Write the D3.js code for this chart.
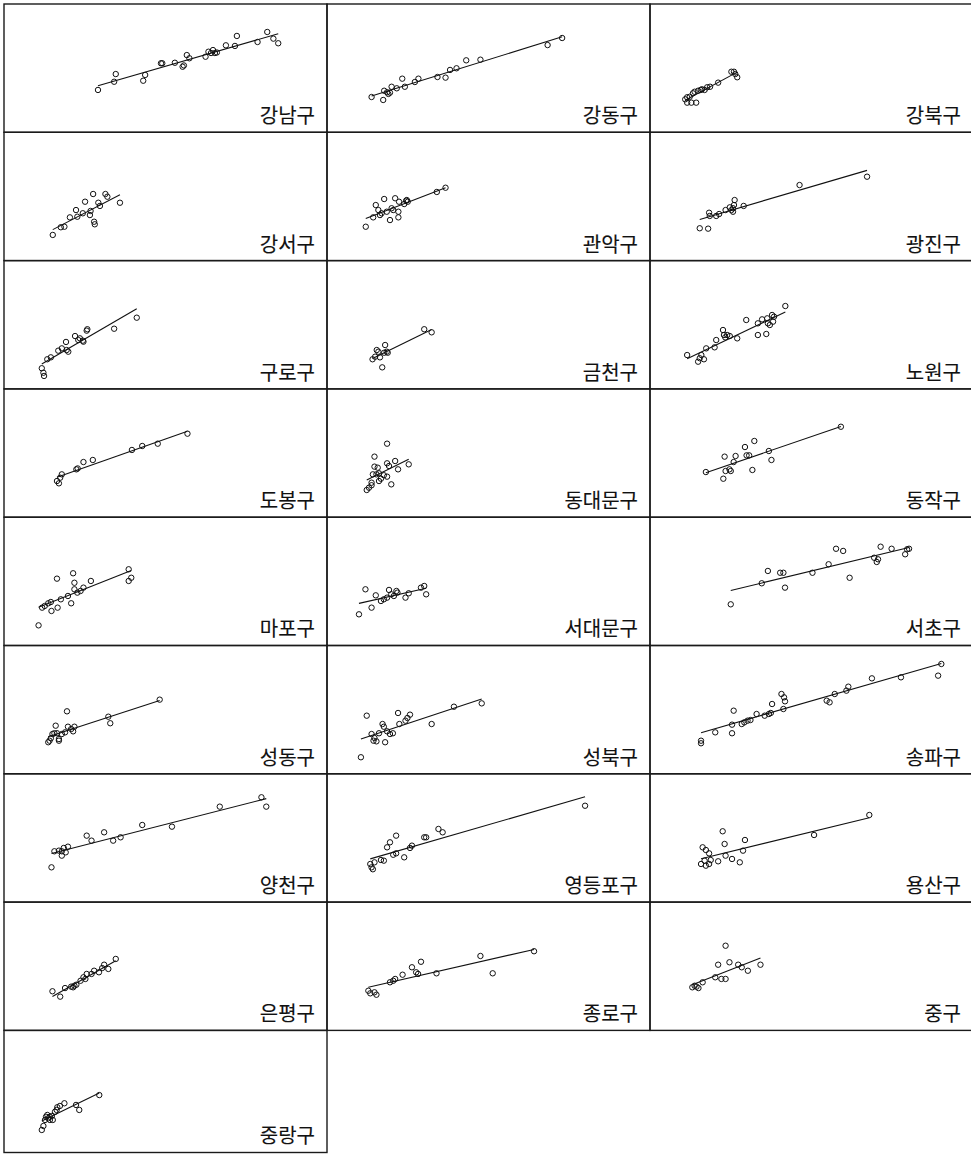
<!DOCTYPE html>
<html>
<head>
<meta http-equiv="Content-Type" content="text/html; charset=utf-8" />
<title>구별 산점도</title>
<script src="https://cdn.jsdelivr.net/npm/d3@7"></script>
<style>
body {
	margin: 0;
	background-color: #fff;
}
svg {
	display: block;
}
.frame {
	fill: none;
	stroke: #1a1a1a;
	stroke-width: 1.4;
}
.pt {
	fill: none;
	stroke: #111;
	stroke-width: 1;
}
.fit {
	stroke: #111;
	stroke-width: 1.1;
}
.lab {
	font: 20px "Noto Sans CJK KR", sans-serif;
	fill: #111;
	stroke: #111;
	stroke-width: 0.12;
	text-anchor: end;
}
</style>
</head>
<body>
<svg></svg>
<script>

/***********
 Data
************/
var districts = ["강남구","강동구","강북구","강서구","관악구","광진구","구로구","금천구","노원구",
	"도봉구","동대문구","동작구","마포구","서대문구","서초구","성동구","성북구","송파구",
	"양천구","영등포구","용산구","은평구","종로구","중구","중랑구"];

// [x, y] pairs per district, same order as districts
var samples = [
	[[29.1,33.0],[34.6,45.4],[34.1,39.4],[43.1,40.2],[43.7,44.7],[48.6,53.8],[49.0,53.8],[52.9,54.2],[55.3,51.1],[55.7,52.1],[56.6,60.2],[57.4,57.7],[62.4,58.9],[63.3,62.8],[64.7,64.1],[65.3,61.8],[64.1,61.8],[65.9,62.2],[68.7,67.8],[71.5,67.3],[72.1,75.1],[78.5,70.4],[81.5,78.2],[83.4,73.0],[84.9,69.4]],
	[[13.8,27.5],[17.4,25.2],[17.7,32.4],[18.6,31.2],[19.0,29.9],[19.5,30.9],[20.0,35.5],[21.6,34.3],[23.3,41.8],[24.1,35.5],[27.2,39.2],[28.3,41.8],[34.2,43.1],[36.7,42.6],[38.1,48.6],[40.1,49.9],[43.1,56.1],[47.5,56.6],[68.3,68.0],[72.8,73.5]],
	[[11.5,23.1],[12.8,23.1],[14.3,23.1],[10.9,25.7],[11.5,27.3],[12.3,27.7],[13.3,30.4],[13.8,31.6],[14.9,32.4],[15.7,33.0],[16.1,33.5],[16.9,33.0],[17.7,35.1],[18.6,35.5],[21.1,38.7],[25.2,47.2],[26.0,47.2],[26.4,45.4],[27.0,42.9]],
	[[15.1,20.0],[17.6,26.0],[18.7,26.4],[20.4,33.7],[22.3,39.4],[22.7,34.2],[24.4,36.9],[25.1,45.9],[26.6,35.5],[26.8,38.7],[27.6,51.9],[28.1,28.3],[27.9,30.3],[29.2,45.1],[29.7,42.6],[31.4,51.9],[32.0,49.8],[35.9,45.1]],
	[[12.0,26.4],[14.3,33.7],[15.1,43.3],[15.9,39.4],[16.4,35.5],[16.9,36.9],[17.7,48.0],[18.5,38.1],[19.5,31.6],[20.0,40.8],[20.5,39.4],[21.1,48.6],[22.1,33.7],[22.1,38.1],[22.3,45.9],[23.9,44.1],[24.5,46.7],[25.0,45.9],[24.7,47.2],[34.0,53.5],[36.7,56.8]],
	[[15.4,25.2],[18.0,24.9],[18.3,37.3],[18.5,34.8],[20.5,34.8],[21.4,36.3],[23.4,39.4],[24.7,41.5],[25.2,39.4],[25.7,38.1],[25.7,40.8],[26.0,43.3],[26.2,47.2],[29.0,42.6],[46.3,58.9],[67.2,65.4]],
	[[11.7,16.1],[12.2,12.6],[12.4,10.1],[13.4,23.1],[14.5,24.6],[16.8,29.8],[17.9,31.6],[19.2,36.6],[19.4,30.3],[19.9,29.0],[22.0,41.2],[23.0,38.1],[23.5,39.4],[24.4,37.6],[24.6,36.8],[25.6,45.4],[25.8,46.5],[34.1,46.9],[41.1,55.5]],
	[[14.1,23.1],[14.9,25.1],[15.4,30.3],[15.9,29.0],[16.4,24.6],[17.1,16.8],[18.0,34.2],[17.7,28.2],[18.5,29.0],[18.8,28.2],[30.1,46.5],[32.4,44.1]],
	[[11.5,26.4],[14.9,21.2],[15.4,23.9],[15.9,26.4],[16.7,23.1],[17.4,31.6],[20.0,32.4],[20.5,38.1],[22.6,45.9],[22.9,42.0],[23.3,40.2],[23.9,42.0],[24.7,41.2],[27.0,39.4],[29.8,53.7],[33.4,42.0],[36.0,42.8],[33.4,51.1],[34.7,54.2],[36.3,55.0],[36.5,51.1],[37.1,49.8],[37.8,57.6],[38.4,56.3],[38.1,52.4],[41.9,64.6]],
	[[16.4,28.2],[17.4,30.8],[17.9,33.4],[17.0,26.4],[22.4,37.3],[22.8,38.0],[24.6,43.0],[27.5,44.6],[39.6,52.4],[42.8,55.5],[47.6,57.3],[56.8,65.1]],
	[[12.3,21.2],[13.0,23.0],[13.8,24.9],[14.7,47.2],[14.7,39.4],[15.7,38.6],[14.2,33.4],[15.3,33.4],[16.1,34.2],[16.7,30.0],[17.6,32.7],[18.6,31.6],[18.6,42.0],[19.2,39.9],[18.6,57.3],[19.9,25.6],[21.1,43.8],[22.0,37.3],[25.3,41.2],[16.1,28.2],[13.8,26.9]],
	[[17.3,35.2],[22.7,30.0],[23.4,36.0],[24.6,37.3],[25.0,36.0],[23.1,47.2],[26.5,47.7],[25.9,43.0],[29.4,54.7],[30.7,48.2],[29.9,48.2],[31.7,36.8],[32.3,59.4],[36.8,51.6],[37.6,44.6],[59.1,70.5]],
	[[10.7,15.7],[11.8,29.5],[12.6,30.8],[13.7,32.9],[14.5,33.9],[14.7,26.9],[16.6,29.5],[16.4,52.1],[17.6,36.0],[19.8,38.6],[20.8,32.9],[21.4,56.3],[21.8,48.9],[21.8,43.8],[22.7,41.2],[23.7,42.5],[24.6,45.1],[26.9,50.3],[38.6,59.4],[38.6,50.3],[39.4,52.8]],
	[[9.9,24.3],[11.9,43.8],[13.8,29.5],[15.1,39.1],[16.7,34.7],[17.6,36.0],[18.6,37.3],[19.2,43.3],[19.9,39.9],[20.7,38.6],[21.5,42.5],[21.8,41.2],[24.3,37.3],[25.3,40.7],[29.1,45.1],[30.1,46.4],[30.7,39.9]],
	[[25.0,32.1],[34.6,48.5],[36.5,58.1],[40.3,56.7],[41.3,56.7],[41.8,45.1],[50.3,56.7],[55.3,63.3],[57.6,75.4],[59.8,73.7],[61.8,52.8],[69.4,68.4],[70.2,65.1],[70.6,67.2],[71.4,77.0],[74.8,75.4],[79.0,71.1],[79.6,75.0],[80.2,75.4]],
	[[13.7,24.6],[14.1,25.8],[14.5,27.7],[15.0,31.0],[15.6,31.6],[16.4,31.6],[17.0,27.1],[17.0,25.8],[16.0,37.5],[17.9,31.0],[18.9,32.3],[19.5,48.7],[19.8,36.7],[20.8,34.9],[21.8,36.7],[21.4,33.1],[32.3,44.5],[32.9,39.4],[48.2,57.8]],
	[[10.5,12.9],[12.3,45.3],[13.8,31.0],[14.7,27.9],[15.3,25.3],[16.1,31.6],[14.4,25.8],[17.2,38.8],[17.6,36.7],[18.0,24.6],[18.6,33.1],[19.5,31.0],[20.4,31.6],[22.0,47.4],[22.4,38.8],[24.3,41.4],[24.9,43.5],[25.7,46.1],[32.4,38.8],[39.3,52.3],[47.9,54.9]],
	[[15.8,25.8],[15.8,23.8],[20.2,32.3],[25.4,31.6],[25.9,49.2],[25.4,38.3],[28.4,38.8],[29.2,40.1],[30.2,41.4],[31.1,41.9],[33.0,46.6],[35.5,45.3],[36.8,46.6],[37.4,47.4],[37.8,54.4],[40.7,62.2],[41.5,59.6],[41.8,56.5],[41.3,50.5],[54.7,57.0],[55.6,55.7],[57.2,62.2],[60.8,64.8],[61.4,67.9],[68.7,74.4],[77.7,75.2],[89.2,76.5],[90.2,85.6]],
	[[14.7,27.1],[15.6,39.6],[17.0,40.1],[17.9,39.6],[18.5,42.2],[19.1,38.8],[19.8,43.2],[17.9,36.2],[25.6,51.8],[27.1,47.9],[31.0,54.4],[33.8,47.9],[36.1,50.5],[42.8,60.1],[52.0,58.8],[66.8,74.4],[79.7,81.7],[81.2,74.4]],
	[[13.4,29.7],[13.8,27.1],[14.2,25.6],[14.7,31.0],[16.7,32.8],[17.6,32.3],[18.6,42.7],[19.5,46.6],[20.5,36.9],[21.4,38.0],[21.4,51.8],[23.9,34.9],[25.7,42.2],[26.3,44.0],[30.1,50.5],[30.7,50.5],[34.5,57.0],[35.8,54.4],[79.9,75.1]],
	[[15.8,29.7],[16.9,32.3],[17.3,28.4],[18.3,29.7],[18.8,32.8],[16.3,42.7],[17.3,40.6],[18.3,38.0],[21.1,31.8],[22.5,55.2],[23.1,45.3],[23.4,36.2],[25.4,33.6],[27.8,31.0],[28.8,40.1],[29.4,48.4],[50.8,52.3],[67.9,67.9]],
	[[15.0,30.5],[17.4,26.3],[18.9,33.0],[20.8,34.1],[21.8,34.8],[22.4,35.6],[21.4,33.6],[23.7,38.7],[24.6,41.4],[25.6,44.0],[25.2,40.1],[27.1,44.0],[27.9,46.5],[29.4,45.3],[30.4,48.6],[31.0,51.2],[32.3,47.9],[34.6,55.7]],
	[[12.8,30.9],[13.4,28.9],[14.7,29.7],[15.3,27.8],[19.5,37.5],[20.5,38.7],[21.1,40.1],[23.4,43.4],[26.3,49.2],[27.6,45.3],[28.2,44.0],[29.1,53.5],[33.9,44.5],[47.5,58.0],[51.3,44.5],[64.1,61.7]],
	[[13.1,33.6],[13.8,34.8],[15.0,33.0],[14.4,34.1],[16.3,37.5],[20.2,41.4],[21.1,51.2],[22.1,40.1],[23.4,40.1],[23.4,66.0],[24.6,53.1],[27.3,51.2],[28.4,49.2],[30.3,46.5],[34.2,51.2]],
	[[11.7,22.4],[12.2,25.5],[12.7,30.2],[13.0,32.7],[13.4,34.1],[13.7,31.5],[14.2,32.7],[14.8,33.3],[14.2,30.2],[15.1,30.2],[15.8,36.6],[16.3,38.0],[16.5,40.1],[17.3,41.1],[18.7,43.2],[22.3,41.9],[23.3,38.0],[29.5,49.6]]
];

var xDomain = [0, 100];
var yDomain = [0, 100];

/***********
 Layout
************/
var w = 971, h = 1154;
var ncol = 3;
var margin_left = 4, margin_top = 4;
var panel_w = 323, panel_h = 128.3;

var svg = d3.select("svg")
	.attr("width", w)
	.attr("height", h);

var x = d3.scaleLinear().domain(xDomain).range([0, panel_w]);
var y = d3.scaleLinear().domain(yDomain).range([panel_h, 0]);

// least squares fit, drawn over the range of the data
function lmLine(pts) {
	var mx = d3.mean(pts, function(d) { return d[0]; });
	var my = d3.mean(pts, function(d) { return d[1]; });
	var sxy = d3.sum(pts, function(d) { return (d[0]-mx)*(d[1]-my); });
	var sxx = d3.sum(pts, function(d) { return (d[0]-mx)*(d[0]-mx); });
	var b = sxy/sxx, a = my - b*mx;
	var ext = d3.extent(pts, function(d) { return d[0]; });
	return [[ext[0], a + b*ext[0]], [ext[1], a + b*ext[1]]];
}

function panelTop(i) {
	return margin_top + Math.floor(i/ncol)*panel_h;
}

// frame height: last row is cut by the page edge
function frameH(i) {
	return Math.min(panel_h, h - 1.5 - panelTop(i));
}

var panels = svg.selectAll(".panel")
	.data(districts)
	.enter()
	.append("g")
	.classed("panel", true)
	.attr("transform", function(d, i) {
		return "translate(" + (margin_left + (i % ncol)*panel_w) + "," + panelTop(i) + ")";
	});

panels.append("rect")
	.classed("frame", true)
	.attr("x", 0)
	.attr("y", 0)
	.attr("width", panel_w)
	.attr("height", function(d, i) { return frameH(i); });

panels.append("line")
	.classed("fit", true)
	.each(function(d, i) {
		var l = lmLine(samples[i]);
		d3.select(this)
			.attr("x1", x(l[0][0])).attr("y1", y(l[0][1]))
			.attr("x2", x(l[1][0])).attr("y2", y(l[1][1]));
	});

panels.each(function(d, i) {
	d3.select(this).selectAll(".pt")
		.data(samples[i])
		.enter()
		.append("circle")
		.classed("pt", true)
		.attr("cx", function(p) { return x(p[0]); })
		.attr("cy", function(p) { return y(p[1]); })
		.attr("r", 2.7);
});

panels.append("text")
	.classed("lab", true)
	.attr("x", panel_w - 12)
	.attr("y", function(d, i) { return frameH(i) - 9; })
	.text(function(d) { return d; });

</script>
</body>
</html>
